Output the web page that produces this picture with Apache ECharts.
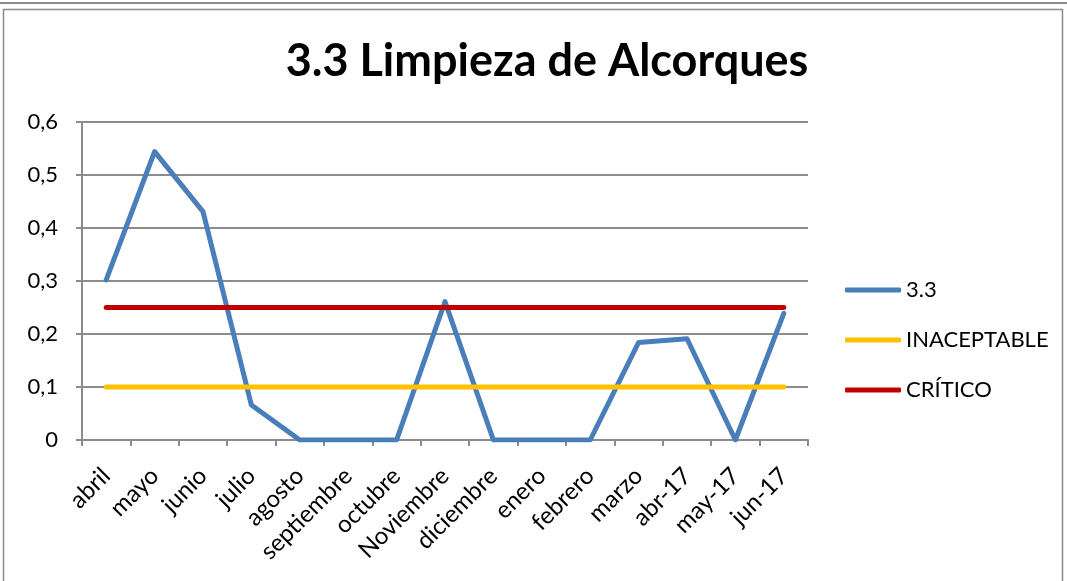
<!DOCTYPE html>
<html><head><meta charset="utf-8">
<script src="https://cdn.jsdelivr.net/npm/echarts@6/dist/echarts.min.js"></script>
<style>html,body{margin:0;padding:0;background:#fff}#c{width:1067px;height:581px}</style>
</head><body><div id="c"></div>
<script>
var categories = ['abril','mayo','junio','julio','agosto','septiembre','octubre','Noviembre','diciembre','enero','febrero','marzo','abr-17','may-17','jun-17'];
var serie33 = [0.302,0.544,0.431,0.066,0,0,0,0.261,0,0,0,0.184,0.191,0,0.239];
var inaceptable = [0.1,0.1,0.1,0.1,0.1,0.1,0.1,0.1,0.1,0.1,0.1,0.1,0.1,0.1,0.1];
var critico = [0.25,0.25,0.25,0.25,0.25,0.25,0.25,0.25,0.25,0.25,0.25,0.25,0.25,0.25,0.25];
var yTicks = [0,0.1,0.2,0.3,0.4,0.5,0.6];

var chart = echarts.init(document.getElementById('c'));
var font = 'Lato, Carlito, "Open Sans", sans-serif';
function line(name, data, color){
  return {name:name,type:'line',data:data,symbol:'none',
    lineStyle:{color:color,width:5,cap:'round',join:'round'},itemStyle:{color:color},animation:false};
}
chart.setOption({
  animation:false,
  graphic:[
    {type:'line',shape:{x1:0,y1:3,x2:1067,y2:3},style:{stroke:'#8c8c8c',lineWidth:2}},
    {type:'rect',shape:{x:3.5,y:9.5,width:1059,height:580},style:{fill:'none',stroke:'#8c8c8c',lineWidth:1.5}}
  ],
  title:{text:'3.3 Limpieza de Alcorques',left:542,textAlign:'center',top:34,
    textStyle:{fontFamily:font,fontWeight:'bold',fontSize:45,color:'#000'}},
  grid:{left:82,right:259,top:122,bottom:141},
  legend:{orient:'vertical',left:845,top:279,padding:0,itemWidth:56,itemHeight:5,itemGap:28,icon:'roundRect',
    textStyle:{fontFamily:font,fontSize:22,color:'#000',padding:[0,0,0,0]},
    data:['3.3','INACEPTABLE','CRÍTICO']},
  xAxis:{type:'category',data:categories,boundaryGap:true,
    axisLine:{lineStyle:{color:'#8c8c8c',width:2}},
    axisTick:{show:true,length:6,alignWithLabel:false,lineStyle:{color:'#8c8c8c',width:2}},
    axisLabel:{rotate:45,interval:0,margin:32,fontFamily:font,fontSize:24,color:'#000'}},
  yAxis:{type:'value',min:0,max:0.6,interval:0.1,
    axisLine:{show:true,lineStyle:{color:'#8c8c8c',width:2}},
    axisTick:{show:true,length:6,lineStyle:{color:'#8c8c8c',width:2}},
    splitLine:{lineStyle:{color:'#8c8c8c',width:2}},
    axisLabel:{margin:24,fontFamily:font,fontSize:22,color:'#000',
      formatter:function(v){var t=yTicks.reduce(function(a,b){return Math.abs(b-v)<Math.abs(a-v)?b:a;});return String(Math.round(t*10)/10).replace('.',',');}}},
  series:[line('3.3',serie33,'#4a7ebb'),line('INACEPTABLE',inaceptable,'#ffc000'),line('CRÍTICO',critico,'#c00000')]
});
</script></body></html>
